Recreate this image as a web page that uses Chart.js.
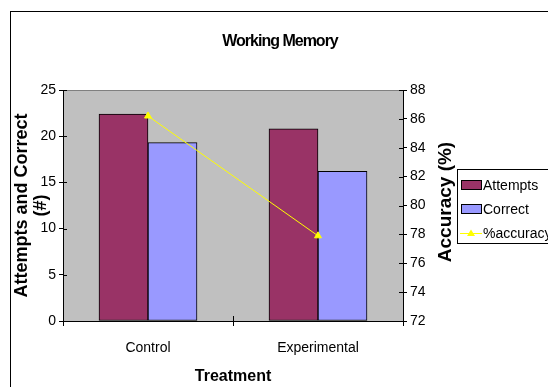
<!DOCTYPE html>
<html>
<head>
<meta charset="utf-8">
<script src="https://cdn.jsdelivr.net/npm/chart.js@4/dist/chart.umd.min.js"></script>
<style>
  html, body { margin: 0; padding: 0; background: #fff; }
  #wrap { width: 548px; height: 387px; }
</style>
</head>
<body>
<div id="wrap"><canvas id="c" width="548" height="387"></canvas></div>
<script>
// Working memory results per treatment group
const chartTitle = 'Working Memory';
const treatments = ['Control', 'Experimental'];
const attempts = [22.4, 20.8];
const correct = [19.3, 16.2];
const accuracyPct = [86.2, 77.9];
const countTicks = [0, 5, 10, 15, 20, 25];
const accuracyTicks = [72, 74, 76, 78, 80, 82, 84, 86, 88];

const FONT = '"Liberation Sans", Arial, sans-serif';

// Grey plot area, outer frame, inward tick marks, right-hand title and legend
const decor = {
  id: 'decor',
  beforeDraw(chart) {
    const { ctx, chartArea: a } = chart;
    ctx.save();
    ctx.fillStyle = '#fff';
    ctx.fillRect(0, 0, chart.width, chart.height);
    ctx.fillStyle = '#C0C0C0';
    ctx.fillRect(a.left, a.top, a.right - a.left, a.bottom - a.top);
    ctx.strokeStyle = '#808080';
    ctx.lineWidth = 1;
    ctx.beginPath();
    ctx.moveTo(a.left, a.top + 0.5);
    ctx.lineTo(a.right, a.top + 0.5);
    ctx.stroke();
    ctx.restore();
  },
  afterDraw(chart) {
    const { ctx, chartArea: a, scales } = chart;
    ctx.save();
    // outer chart frame
    ctx.strokeStyle = '#000';
    ctx.lineWidth = 1;
    ctx.strokeRect(10.5, 11.5, 600, 420);

    // inner halves of the axis tick marks
    ctx.beginPath();
    scales.y.ticks.forEach(t => {
      const py = Math.round(scales.y.getPixelForValue(t.value)) + 0.5;
      ctx.moveTo(a.left, py); ctx.lineTo(a.left + 4, py);
    });
    scales.y1.ticks.forEach(t => {
      const py = Math.round(scales.y1.getPixelForValue(t.value)) + 0.5;
      ctx.moveTo(a.right, py); ctx.lineTo(a.right - 4, py);
    });
    const mid = Math.round((scales.x.getPixelForValue(0) + scales.x.getPixelForValue(1)) / 2) + 0.5;
    ctx.moveTo(mid, a.bottom); ctx.lineTo(mid, a.bottom - 5);
    ctx.stroke();

    // chart title
    ctx.fillStyle = '#000';
    ctx.font = 'bold 16px ' + FONT;
    ctx.letterSpacing = '-1px';
    ctx.textAlign = 'center';
    ctx.textBaseline = 'middle';
    ctx.fillText(chartTitle, 280, 42);
    ctx.letterSpacing = '0px';

    // right axis title, reading upward
    ctx.save();
    ctx.translate(446, 202);
    ctx.rotate(-Math.PI / 2);
    ctx.font = 'bold 19px ' + FONT;
    ctx.fillText('Accuracy (%)', 0, 0);
    ctx.restore();

    // legend
    const lx = 457, ly = 169;
    ctx.fillStyle = '#fff';
    ctx.fillRect(lx, ly, 120, 74);
    ctx.strokeStyle = '#000';
    ctx.strokeRect(lx + 0.5, ly + 0.5, 120, 74);
    ctx.font = '14px ' + FONT;
    ctx.textAlign = 'left';
    chart.data.datasets.forEach((ds, i) => {
      const cy = ly + 16 + i * 24;
      if (ds.type === 'line') {
        ctx.strokeStyle = ds.borderColor;
        ctx.lineWidth = 1;
        ctx.beginPath();
        ctx.moveTo(lx + 3, cy + 0.5); ctx.lineTo(lx + 25, cy + 0.5);
        ctx.stroke();
        ctx.fillStyle = ds.pointBackgroundColor;
        ctx.beginPath();
        ctx.moveTo(lx + 14, cy - 3.5);
        ctx.lineTo(lx + 18, cy + 3);
        ctx.lineTo(lx + 10, cy + 3);
        ctx.closePath();
        ctx.fill();
      } else {
        ctx.fillStyle = ds.backgroundColor;
        ctx.fillRect(lx + 4.5, cy - 4.5, 20, 9);
        ctx.strokeStyle = '#000';
        ctx.lineWidth = 1;
        ctx.strokeRect(lx + 4.5, cy - 4.5, 20, 9);
      }
      ctx.fillStyle = '#000';
      ctx.fillText(ds.label, lx + 26, cy + 1);
    });
    ctx.restore();
  }
};

new Chart(document.getElementById('c'), {
  type: 'bar',
  data: {
    labels: treatments,
    datasets: [
      {
        label: 'Attempts', data: attempts, yAxisID: 'y',
        backgroundColor: '#993366', borderColor: '#000', borderWidth: 1, borderSkipped: false,
        order: 1, barThickness: 49
      },
      {
        label: 'Correct', data: correct, yAxisID: 'y',
        backgroundColor: '#9999FF', borderColor: '#000', borderWidth: 1, borderSkipped: false,
        order: 1, barThickness: 49
      },
      {
        type: 'line', label: '%accuracy', data: accuracyPct, yAxisID: 'y1',
        borderColor: '#FFFF00', borderWidth: 1, pointStyle: 'triangle',
        pointRadius: 4, pointBackgroundColor: '#FFFF00', pointBorderColor: '#FFFF00',
        pointBorderWidth: 1, tension: 0, order: 0
      }
    ]
  },
  options: {
    responsive: false,
    animation: false,
    devicePixelRatio: 1,
    layout: { padding: { top: 90, left: 12, right: 95, bottom: 0 } },
    plugins: { legend: { display: false }, title: { display: false }, tooltip: { enabled: false } },
    scales: {
      x: {
        grid: { display: true, drawOnChartArea: false, offset: true, tickLength: 5, color: '#000' },
        border: { color: '#000' },
        ticks: { color: '#000', font: { family: FONT, size: 14 }, padding: 14, maxRotation: 0 },
        title: { display: true, text: 'Treatment', color: '#000',
                 font: { family: FONT, size: 16, weight: 'bold' }, padding: { top: 4, bottom: 1 } },
        afterFit(s) { s.height = 66; }
      },
      y: {
        position: 'left', min: 0, max: 25,
        afterBuildTicks(s) { s.ticks = countTicks.map(v => ({ value: v })); },
        grid: { display: true, drawOnChartArea: false, tickLength: 4, color: '#000' },
        border: { color: '#000' },
        ticks: { color: '#000', font: { family: FONT, size: 14 }, padding: 3 },
        title: { display: true, text: ['Attempts and Correct', '(#)'], color: '#000',
                 font: { family: FONT, size: 18, weight: 'bold', lineHeight: 1.08 }, padding: { top: 0, bottom: 0 } },
        afterFit(s) { s.width = 51; }
      },
      y1: {
        position: 'right', min: 72, max: 88,
        afterBuildTicks(s) { s.ticks = accuracyTicks.map(v => ({ value: v })); },
        grid: { display: true, drawOnChartArea: false, tickLength: 4, color: '#000' },
        border: { color: '#000' },
        ticks: { color: '#000', font: { family: FONT, size: 14 }, padding: 3 },
        title: { display: false },
        afterFit(s) { s.width = 50; }
      }
    }
  },
  plugins: [decor]
});
</script>
</body>
</html>
